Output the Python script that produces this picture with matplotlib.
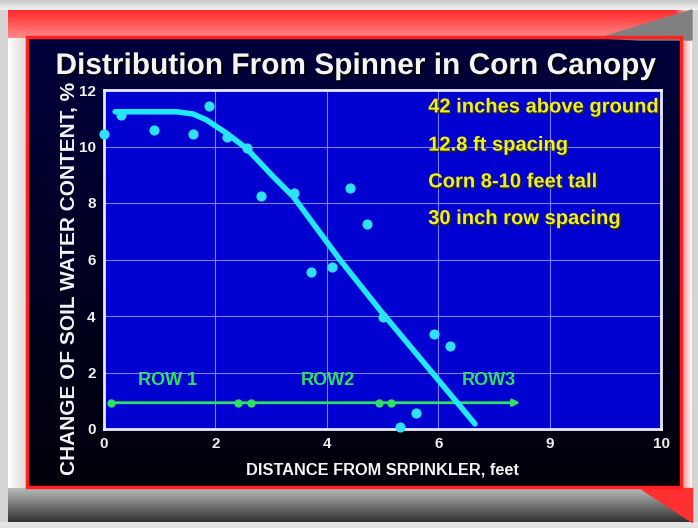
import numpy as np
import matplotlib
matplotlib.use("Agg")
from matplotlib import pyplot as plt
import matplotlib.patheffects as pe

plt.rcParams['font.family'] = ['Liberation Sans', 'DejaVu Sans']
plt.rcParams['font.weight'] = 'bold'

# measured points (distance ft, change of soil water %)
pts_x = [0.0, 0.3, 0.9, 1.6, 1.88, 2.2, 2.56, 2.82, 3.41, 3.71, 4.1, 4.42, 4.72, 5.01, 5.31, 5.61, 5.93, 6.22]
pts_y = [10.45, 11.1, 10.6, 10.45, 11.43, 10.35, 9.93, 8.24, 8.34, 5.55, 5.75, 8.54, 7.25, 3.97, 0.08, 0.55, 3.38, 2.95]

# fitted curve
fit_x = [0.2, 1.3, 1.6, 1.84, 2.2, 2.56, 3.04, 3.4, 4.24, 5.0, 6.66]
fit_y = [11.23, 11.23, 11.15, 10.94, 10.47, 9.93, 8.93, 8.22, 5.98, 4.1, 0.18]

# row spans
rows = ['ROW 1', 'ROW2', 'ROW3']
row_marks = [0.12, 2.4, 2.64, 4.94, 5.16]
row_end = 7.47
row_label_x = [1.15, 4.02, 6.9]
row_y = 0.93

notes = ['42 inches above ground', '12.8 ft spacing', 'Corn 8-10 feet tall', '30 inch row spacing']
notes_y = [11.4, 10.05, 8.75, 7.45]

W, H = 698, 528
fig = plt.figure(figsize=(W / 100, H / 100), dpi=100)
fig.patch.set_facecolor('#d4d4d4')

# slide background
bg = fig.add_axes([0, 0, 1, 1])
bg.set_xlim(0, W)
bg.set_ylim(H, 0)
bg.axis('off')

def vgrad(ax, x0, x1, y0, y1, c0, c1, horiz=False):
    c0 = np.array(matplotlib.colors.to_rgb(c0))
    c1 = np.array(matplotlib.colors.to_rgb(c1))
    t = np.linspace(0, 1, 64)[:, None]
    img = c0 * (1 - t) + c1 * t
    img = img[:, None, :]
    if horiz:
        img = img.transpose(1, 0, 2)
    ax.imshow(img, extent=(x0, x1, y1, y0), aspect='auto', interpolation='bilinear', zorder=1)

vgrad(bg, 0, W, 0, 10, '#c8c8c8', '#f4f4f4')
vgrad(bg, 8, 692, 10, 40, '#ff2a2a', '#ff9090')
vgrad(bg, 8, 30, 38, 492, '#ffffff', '#d8d0d0', horiz=True)
vgrad(bg, 676, 692, 10, 492, '#ff4040', '#ffffff', horiz=True)
vgrad(bg, 8, 692, 488, 522, '#b8bcb8', '#303030')
vgrad(bg, 0, W, 522, H, '#e8e8e8', '#e0e0e0')
bg.fill([600, 692, 692, 640], [38, 10, 40, 40], color='#808080', zorder=2)
bg.fill([640, 692, 692], [488, 488, 522], color='#ff3030', zorder=2)
bg.add_patch(plt.Rectangle((27, 37), 654, 450, facecolor='none', edgecolor='#ff2020', lw=2.5, zorder=3))
vgrad(bg, 28, 680, 38, 486, '#00003c', '#00000a')

# plot area
ax = fig.add_axes([104 / W, 1 - 429 / H, (661 - 104) / W, (429 - 90) / H])
ax.set_facecolor('#0000d0')
ax.set_xlim(0, 10)
ax.set_ylim(0, 12)
ax.set_xticks([0, 2, 4, 6, 8, 10])
ax.set_xticklabels(['0', '2', '4', '6', '9', '10'])
ax.set_yticks([0, 2, 4, 6, 8, 10, 12])
ax.grid(True, color='#8080ff', lw=0.8)
ax.set_axisbelow(True)
for s in ax.spines.values():
    s.set_color('#e8e8ff')
    s.set_linewidth(2)
ax.tick_params(colors='#f0f0f0', labelsize=11, length=0, pad=6)
for lab in ax.get_xticklabels() + ax.get_yticklabels():
    lab.set_fontweight('bold')

ax.plot(fit_x, fit_y, color='#20e8ff', lw=4, solid_capstyle='round', zorder=3)
ax.scatter(pts_x, pts_y, s=40, color='#30e0ff', zorder=4, clip_on=False)

# row line with arrow at the far end
ax.annotate('', xy=(row_end, row_y), xytext=(row_marks[0], row_y),
            arrowprops=dict(arrowstyle='-|>', color='#30e060', lw=2,
                            mutation_scale=10, shrinkA=0, shrinkB=0), zorder=2)
ax.plot(row_marks, [row_y] * len(row_marks), 'o', color='#30e060', ms=5, zorder=2)
for name, lx in zip(rows, row_label_x):
    ax.text(lx, 1.73, name, color='#30e060', fontsize=13, fontweight='bold',
            ha='center', va='center')

shadow = [pe.withSimplePatchShadow(offset=(1.2, -1.2), shadow_rgbFace='#303000', alpha=0.8)]
for t, y in zip(notes, notes_y):
    ax.text(5.82, y, t, color='#f0f020', fontsize=14.5, fontweight='bold',
            ha='left', va='center', path_effects=shadow)

ax.set_xlabel('DISTANCE FROM SRPINKLER, feet', color='#f4f4f4', fontsize=11.8,
              fontweight='bold', labelpad=8)
ax.set_ylabel('CHANGE OF SOIL WATER CONTENT, %', color='#f4f4f4', fontsize=15,
              fontweight='bold')
ax.yaxis.set_label_coords(-0.045, 0.445)

fig.text(356 / W, 1 - 66 / H, 'Distribution From Spinner in Corn Canopy', color='#f4f4f4',
         fontsize=21.5, fontweight='bold', ha='center', va='center',
         path_effects=[pe.withSimplePatchShadow(offset=(1.5, -1.5), shadow_rgbFace='#000000', alpha=0.9)])

fig.savefig('out.png', dpi=100, facecolor=fig.get_facecolor())
